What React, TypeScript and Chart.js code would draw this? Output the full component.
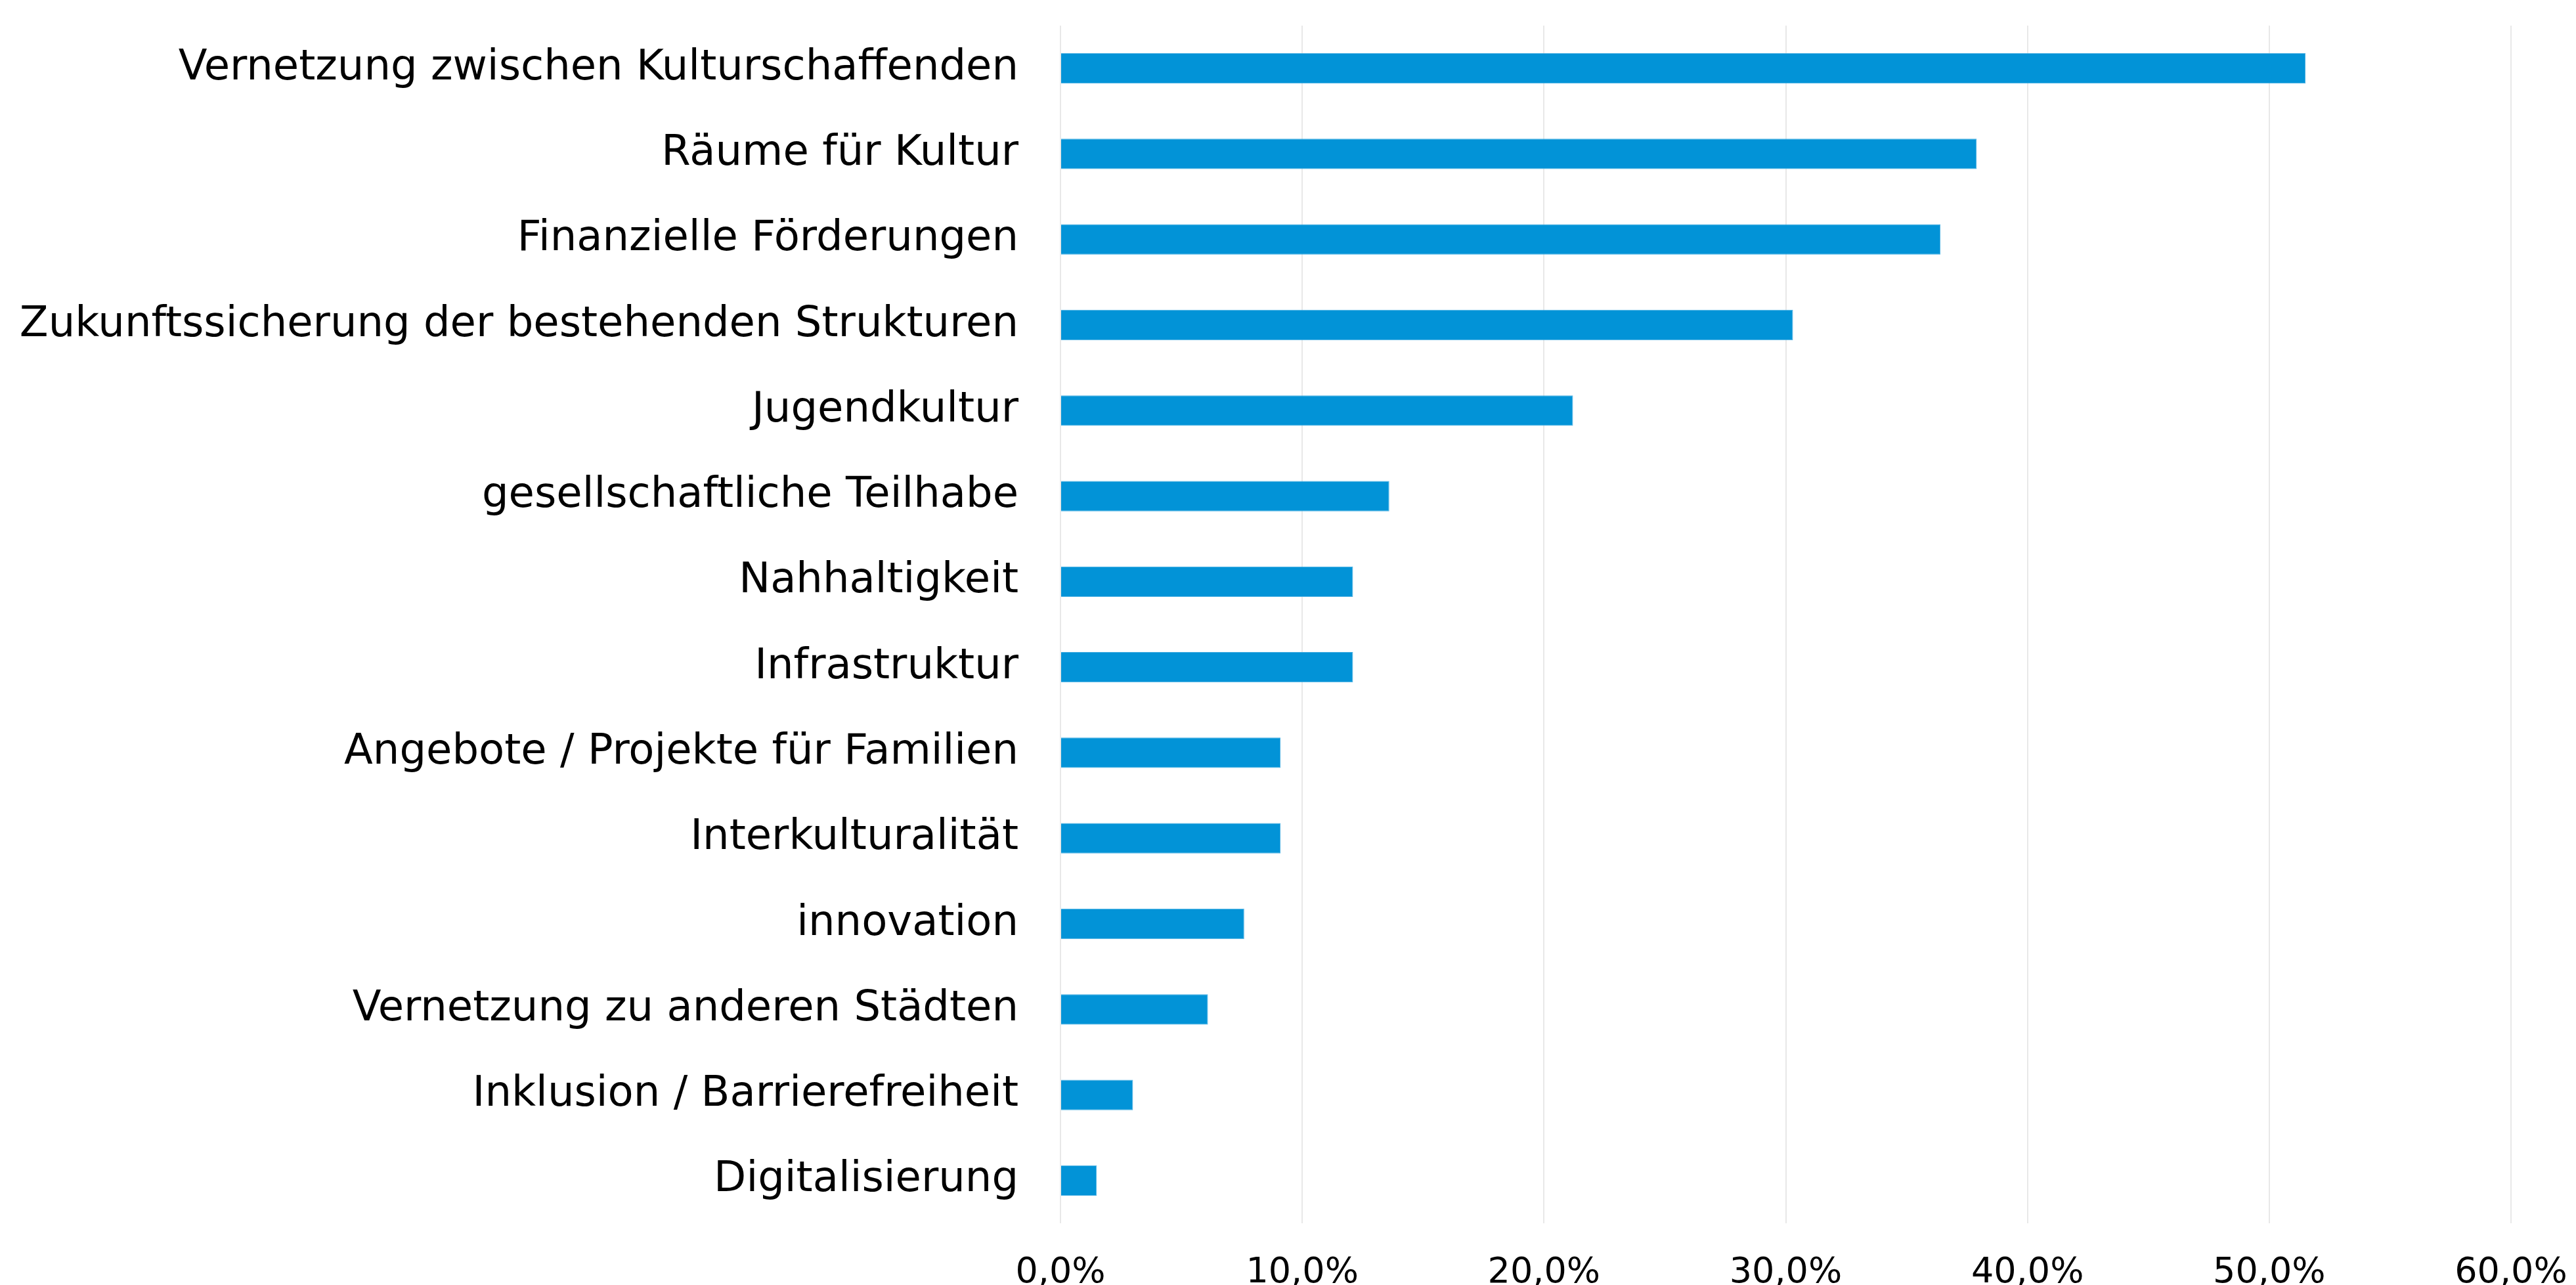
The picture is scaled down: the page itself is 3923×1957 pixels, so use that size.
import React, { useEffect, useRef } from "react";
import { Chart, registerables } from "chart.js";

Chart.register(...registerables);

const categories: string[] = [
  "Vernetzung zwischen Kulturschaffenden",
  "Räume für Kultur",
  "Finanzielle Förderungen",
  "Zukunftssicherung der bestehenden Strukturen",
  "Jugendkultur",
  "gesellschaftliche Teilhabe",
  "Nahhaltigkeit",
  "Infrastruktur",
  "Angebote / Projekte für Familien",
  "Interkulturalität",
  "innovation",
  "Vernetzung zu anderen Städten",
  "Inklusion / Barrierefreiheit",
  "Digitalisierung",
];

const values: number[] = [51.5, 37.9, 36.4, 30.3, 21.2, 13.6, 12.1, 12.1, 9.1, 9.1, 7.6, 6.1, 3.0, 1.5];

const xMin = 0;
const xMax = 60;
const xStep = 10;

const FONT = "'DejaVu Sans', sans-serif";

export default function App() {
  const ref = useRef<HTMLCanvasElement | null>(null);

  useEffect(() => {
    if (!ref.current) return;
    const chart = new Chart(ref.current, {
      type: "bar",
      data: {
        labels: categories,
        datasets: [
          {
            data: values,
            backgroundColor: "#0293D7",
            borderColor: "#45AEE2",
            borderWidth: 1,
            barPercentage: 0.355,
            categoryPercentage: 1,
          },
        ],
      },
      options: {
        indexAxis: "y",
        animation: false,
        responsive: false,
        maintainAspectRatio: false,
        layout: { padding: { top: 39, right: 99, left: 0, bottom: 0 } },
        plugins: { legend: { display: false }, tooltip: { enabled: false } },
        scales: {
          x: {
            min: xMin,
            max: xMax,
            ticks: {
              stepSize: xStep,
              color: "#000",
              padding: 0,
              font: { family: FONT, size: 54 },
              callback: (v: any) => Number(v).toFixed(1).replace(".", ",") + "%",
            },
            grid: {
              color: "#E8E8E8",
              lineWidth: 2,
              drawTicks: true,
              tickLength: 44,
              tickColor: "rgba(0,0,0,0)",
            },
            border: { display: false },
            afterFit: (scale: any) => {
              scale.height = 94;
            },
          },
          y: {
            ticks: {
              color: "#000",
              padding: 0,
              font: { family: FONT, size: 64 },
            },
            grid: { display: false, drawTicks: true, tickLength: 64 },
            border: { display: false },
            afterFit: (scale: any) => {
              scale.width = 1615;
            },
          },
        },
      },
    });
    return () => chart.destroy();
  }, []);

  return (
    <div style={{ position: "fixed", left: 0, top: 0, width: 3923, height: 1957, background: "#fff" }}>
      <canvas ref={ref} width={3923} height={1957} style={{ width: 3923, height: 1957 }} />
    </div>
  );
}
